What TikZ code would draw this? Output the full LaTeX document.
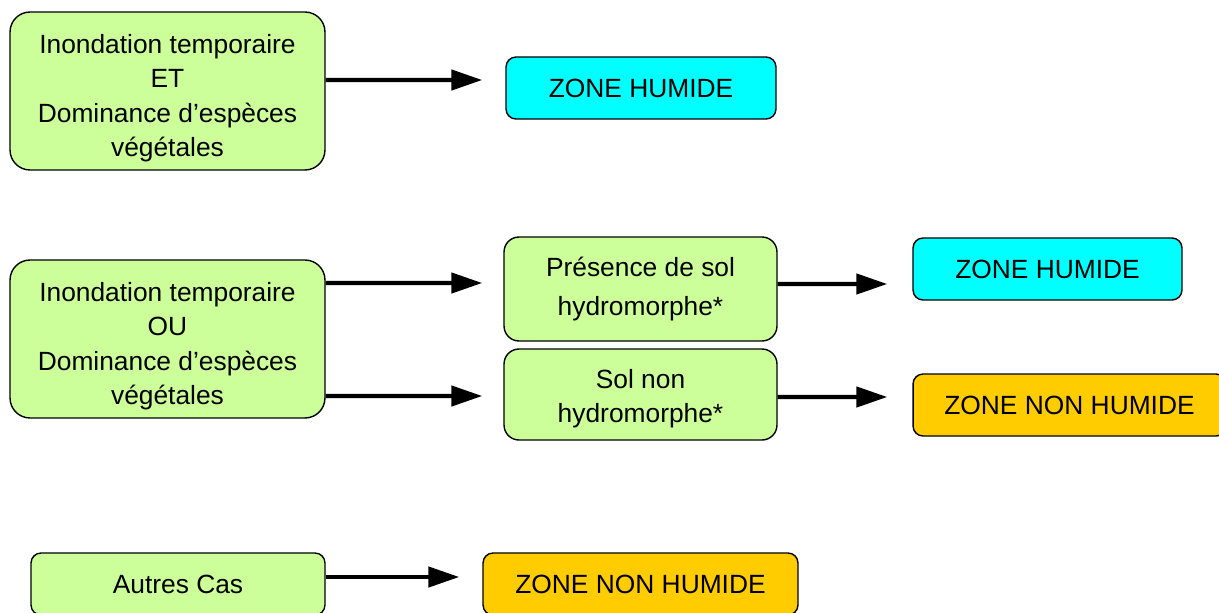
\documentclass[tikz,border=0pt]{standalone}
\usepackage{fontspec}
\setmainfont{Liberation Sans}
\usetikzlibrary{arrows.meta}
\definecolor{critgreen}{HTML}{CCFF99}
\definecolor{zhcyan}{HTML}{00FFFF}
\definecolor{znhorange}{HTML}{FFCC00}
\tikzstyle{crit} = [rectangle, rounded corners=0.4cm, minimum width=6.3cm, minimum height=3.16cm, align=center, draw=black, line width=0.8pt, fill=critgreen, font=\fontsize{15}{19.5}\selectfont]
\tikzstyle{soil} = [rectangle, rounded corners=0.3cm, minimum width=5.46cm, align=center, draw=black, line width=0.8pt, fill=critgreen, font=\fontsize{15}{19.5}\selectfont]
\tikzstyle{zh} = [rectangle, rounded corners=0.2cm, minimum height=1.24cm, text centered, draw=black, line width=0.8pt, fill=zhcyan, font=\fontsize{15}{19.5}\selectfont]
\tikzstyle{znh} = [zh, fill=znhorange]
\tikzstyle{arrow} = [line width=2.5pt, -{Triangle[length=0.62cm, width=0.4cm]}]
\newcommand{\topgap}[1]{\rule{0pt}{#1}}

\begin{document}
\begin{tikzpicture}[x=0.02cm, y=-0.02cm]
\clip (0,0) rectangle (1219,612);
\node (crit1) [crit] at (167.5,91) {\topgap{19pt}Inondation temporaire\\ET\\Dominance d’espèces\\végétales};
\node (zh1) [zh, minimum width=5.4cm] at (641,88) {ZONE HUMIDE};
\node (crit2) [crit] at (167.5,339) {\topgap{19pt}Inondation temporaire\\OU\\Dominance d’espèces\\végétales};
\node (hydro) [soil, minimum height=2.08cm] at (640.5,289) {Présence de sol\\[3pt]hydromorphe*};
\node (nonhydro) [soil, minimum height=1.82cm] at (640.5,394.5) {\topgap{16pt}Sol non\\hydromorphe*};
\node (zh2) [zh, minimum width=5.38cm] at (1047.5,269) {ZONE HUMIDE};
\node (znh1) [znh, minimum width=6.26cm] at (1069.5,405) {ZONE NON HUMIDE};
\node (other) [crit, minimum width=5.88cm, minimum height=1.24cm, rounded corners=0.2cm] at (178,584) {Autres Cas};
\node (znh2) [znh, minimum width=6.3cm] at (640.5,584) {ZONE NON HUMIDE};
\draw [arrow, shorten >=0.46cm] ([yshift=0.22cm]crit1.east) -- ([yshift=0.16cm]zh1.west);
\draw [arrow, shorten >=0.42cm] ([yshift=1.12cm]crit2.east) -- ([yshift=0.12cm]hydro.west);
\draw [arrow, shorten >=0.42cm] ([yshift=-1.14cm]crit2.east) -- ([yshift=-0.03cm]nonhydro.west);
\draw [arrow, shorten >=0.5cm] ([yshift=0.1cm]hydro.east) -- ([yshift=-0.3cm]zh2.west);
\draw [arrow, shorten >=0.5cm] ([yshift=-0.05cm]nonhydro.east) -- ([yshift=0.16cm]znh1.west);
\draw [arrow, shorten >=0.46cm] ([yshift=0.14cm]other.east) -- ([yshift=0.14cm]znh2.west);
\end{tikzpicture}
\end{document}
